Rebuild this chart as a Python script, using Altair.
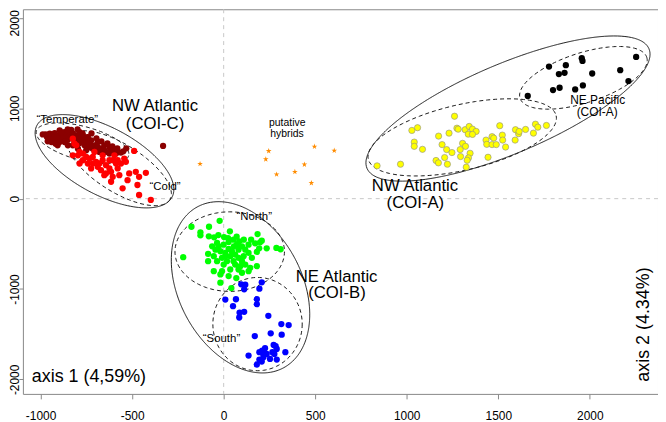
import numpy as np
import pandas as pd
import altair as alt

# ---------------- point data (axis 1, axis 2) ----------------
darkred_x = [-972,-965,-950,-941,-932,-923,-914,-905,-896,-887,-878,-869,-860,-851,-842,-833,-824,-815,-805,-796,
             -787,-778,-769,-760,-751,-742,-733,-724,-715,-706,-697,-688,-679,-670,-652,-643,-624,-606,-588,-561,
             -959,-941,-918,-896,-851,-824,-796,-751,-896,-869,-833,-787,-769,-742,-688,-652,-624,-331,
             -988,-961,-923,-885,-852,-825,-798,-771,-744,-722,-695,-668,-635,-608,-581,-548,-532,
             -907,-863,-814,-733,-679,-624]
darkred_y = [711,682,718,689,663,726,700,645,682,718,663,627,700,652,737,682,718,645,700,663,
             616,682,645,590,627,572,608,645,553,590,535,572,517,553,535,517,499,535,499,510,
             645,627,608,627,590,590,553,535,755,737,762,737,700,682,627,590,572,583,
             711,634,678,733,766,722,766,722,678,722,667,634,612,579,557,524,557,
             590,634,623,568,535,513]

red_x = [-824,-815,-805,-787,-824,-796,-769,-751,-733,-715,-742,-715,-697,-688,-670,-661,-643,-624,-615,-606,
         -615,-588,-579,-561,-543,-534,-489,-516,-480,-462,-425,-471,-552,-525,-579,-597,-661,-706,-724,-769,
         -787,-679,-643,-462,-398,-606,-624,-652,-570]
red_y = [663,608,590,517,480,480,499,462,444,462,389,389,407,352,315,425,370,334,297,242,
         187,389,334,389,444,407,528,279,297,242,286,151,114,205,425,480,480,517,334,425,
         389,389,279,41,-14,425,425,260,260]

green_x = [-22,-176,-80,-127,-127,-81,-29,-52,2,34,71,110,185,208,235,288,311,-221,-85,-27,
           0,27,54,72,100,118,172,181,194,136,154,27,45,63,81,100,118,145,181,36,
           54,63,9,-9,-36,-54,-18,-45,-36,-63,0,36,81,100,-9,-54,-18,27,69,42,
           -18,91,136,109,18,81,9,56,24,85,136,150,199,-85]
green_y = [-245,-311,-311,-373,-406,-417,-403,-428,-425,-362,-421,-454,-392,-465,-549,-545,-560,-648,-611,-527,
           -509,-479,-454,-509,-527,-564,-494,-589,-549,-600,-655,-556,-582,-619,-655,-692,-729,-765,-747,-637,
           -692,-729,-600,-655,-692,-637,-582,-564,-490,-527,-729,-784,-784,-820,-802,-802,-838,-857,-879,-989,
           -930,-747,-802,-637,-692,-564,-637,-527,-436,-472,-509,-454,-483,-692]

blue_x = [208,195,96,118,112,9,67,51,181,181,87,112,85,244,315,355,170,257,317,273,
          284,290,226,210,195,217,235,337,136,195,208,181,253,290,266,277,217]
blue_y = [-926,-996,-948,-952,-1003,-1117,-1113,-1190,-1113,-1168,-1260,-1252,-1315,-1296,-1388,-1399,-1520,-1490,-1505,-1619,
          -1633,-1663,-1655,-1681,-1699,-1718,-1718,-1699,-1736,-1780,-1802,-1835,-1773,-1780,-1699,-1718,-1754]

yellow_x = [838,966,1028,1059,1041,1041,1086,1174,1193,1231,1261,1274,1281,1319,1341,1359,1379,1336,1359,1305,
            1321,1218,1247,1292,1346,1294,1207,1160,1173,1222,1337,1330,1325,1433,1437,1466,1475,1466,1489,1522,
            1524,1540,1444,1508,1594,1611,1614,1592,1649,1692,1703,1716,1763]
yellow_y = [363,381,755,785,626,579,546,692,598,725,912,780,769,763,799,769,744,714,711,612,
            579,543,510,543,502,466,455,422,396,381,451,425,348,648,601,686,670,598,598,703,
            648,571,458,807,763,719,744,648,766,725,824,791,810]

black_x = [1777,1869,1956,1960,2253,1831,1862,2013,2166,2211,1799,1835,1920,1962,1661]
black_y = [1462,1477,1554,1524,1568,1378,1392,1385,1422,1301,1202,1227,1209,1253,1136]

hybrid_x = [-129,246,230,496,604,441,389,289,479]
hybrid_y = [385,527,436,576,532,378,297,268,173]

# ---------------- ellipses: centre and two conjugate semi-axes (data units) ----------------
ell_name = ["COI-C", "Temperate", "Cold", "COI-B", "North", "South", "COI-A all", "NW COI-A", "NE Pacific"]
ell_cx = [-651, -771, -570, 92, 33, 185, 1553, 1303, 1965]
ell_cy = [414, 612, 337, -981, -586, -1388, 997, 678, 1337]
ell_ux = [369, 252, 276, 234, 299, 244, 770, 513, 346]
ell_uy = [-397, -136, -349, -892, 0, 0, 662, 240, 227]
ell_vx = [-86, -24, -69, -297, 0, 0, 96, 40, 42]
ell_vy = [-330, -180, -224, -320, -440, -516, -455, -353, -262]
ell_style = ["solid", "dashed", "dashed", "solid", "dashed", "dashed", "solid", "dashed", "dashed"]

# ---------------- labels ----------------
lab_text = ["NW Atlantic", "(COI-C)", "\u201cTemperate\u201d", "\u201cCold\u201d", "putative", "hybrids",
            "\u201cNorth\u201d", "\u201cSouth\u201d", "NE Atlantic", "(COI-B)", "NW Atlantic", "(COI-A)",
            "NE Pacific", "(COI-A)"]
lab_x = [-375, -375, -854, -320, 347, 346, 167, -12, 617, 619, 1045, 1047, 2043, 2040]
lab_y = [975, 771, 837, 96, 799, 678, -240, -1586, -926, -1102, 88, -108, 1048, 914]
lab_size = [16.8, 16.8, 11.5, 11.5, 10.5, 10.5, 11.5, 11.5, 16.8, 16.8, 16.8, 16.8, 12, 12]

x_ticks = [-1000, -500, 0, 500, 1000, 1500, 2000]
y_ticks = [-2000, -1000, 0, 1000, 2000]

FONT = "Liberation Sans"
xs = alt.Scale(domain=[-1096.6, 2372.4], nice=False, zero=False)
ys = alt.Scale(domain=[-2160.4, 2095.6], nice=False, zero=False)

X = alt.X("x:Q", scale=xs, axis=alt.Axis(values=x_ticks, labelExpr="datum.value + ''", grid=False,
                                          domain=False, tickColor="#888", tickSize=5, labelFontSize=12,
                                          labelFont=FONT, labelColor="black", labelPadding=12, title=None))
Y = alt.Y("y:Q", scale=ys, axis=alt.Axis(values=y_ticks, labelExpr="datum.value + ''", grid=False,
                                          domain=False, tickColor="#888", tickSize=4, labelFontSize=12,
                                          labelFont=FONT, labelColor="black", labelPadding=0, labelAngle=270,
                                          labelAlign="center", labelBaseline="alphabetic",
                                          labelOffset={"condition": {"test": "datum.value == 2000", "value": 5},
                                                       "value": 0},
                                          title=None))

# zero lines
zx = alt.Chart(pd.DataFrame({"x": [0]})).mark_rule(color="#c8c8c8", strokeDash=[4, 4], strokeWidth=1).encode(
    x=alt.X("x:Q", scale=xs))
zy = alt.Chart(pd.DataFrame({"y": [0]})).mark_rule(color="#c8c8c8", strokeDash=[4, 4], strokeWidth=1).encode(
    y=alt.Y("y:Q", scale=ys))

# ellipse outlines
t = np.linspace(0, 2 * np.pi, 145)
rows = []
for i, n in enumerate(ell_name):
    for k, tt in enumerate(t):
        rows.append({"ell": n, "i": k, "style": ell_style[i],
                     "x": ell_cx[i] + ell_ux[i] * np.cos(tt) + ell_vx[i] * np.sin(tt),
                     "y": ell_cy[i] + ell_uy[i] * np.cos(tt) + ell_vy[i] * np.sin(tt)})
ell_df = pd.DataFrame(rows)
ells = alt.Chart(ell_df).mark_line(color="#1a1a1a", strokeWidth=1).encode(
    x=X, y=Y, detail="ell:N", order="i:Q",
    strokeDash=alt.StrokeDash("style:N", scale=alt.Scale(domain=["solid", "dashed"], range=[[1, 0], [4, 3]]),
                              legend=None))

def pts(xv, yv, color, **kw):
    df = pd.DataFrame({"x": xv, "y": yv})
    return alt.Chart(df).mark_circle(size=40, opacity=1, color=color, **kw).encode(x=X, y=Y)

p_dr = pts(darkred_x, darkred_y, "#8B0000")
p_r = pts(red_x, red_y, "#FF0000")
p_g = pts(green_x, green_y, "#00FF00")
p_b = pts(blue_x, blue_y, "#0000FF")
p_y = pts(yellow_x, yellow_y, "#FFFF00", stroke="#8a8a8a", strokeWidth=0.6)
p_k = pts(black_x, black_y, "#000000")

STAR = "M0,-1L0.2245,-0.309L0.951,-0.309L0.363,0.118L0.588,0.809L0,0.382L-0.588,0.809L-0.363,0.118L-0.951,-0.309L-0.2245,-0.309Z"
p_h = alt.Chart(pd.DataFrame({"x": hybrid_x, "y": hybrid_y})).mark_point(
    shape=STAR, filled=True, color="#FF8C00", size=36, opacity=1).encode(x=X, y=Y)

lab_df = pd.DataFrame({"x": lab_x, "y": lab_y, "t": lab_text, "s": lab_size})
labels = alt.Chart(lab_df).mark_text(font=FONT, color="black", align="center", baseline="alphabetic").encode(
    x=X, y=Y, text="t:N", size=alt.Size("s:Q", scale=None, legend=None))

ax1 = alt.Chart(pd.DataFrame({"x": [-1048], "y": [-2025], "t": ["axis 1 (4,59%)"]})).mark_text(
    font=FONT, fontSize=18, color="black", align="left", baseline="alphabetic").encode(x=X, y=Y, text="t:N")
ax2 = alt.Chart(pd.DataFrame({"x": [2325], "y": [-2025], "t": ["axis 2 (4.34%)"]})).mark_text(
    font=FONT, fontSize=18, color="black", align="left", baseline="alphabetic", angle=270).encode(x=X, y=Y, text="t:N")

chart = alt.layer(zx, zy, ells, p_dr, p_r, p_g, p_b, p_y, p_k, p_h, labels, ax1, ax2).properties(
    width=639, height=387,
    padding={"left": 15, "top": 0, "right": 0, "bottom": 27},
    autosize=alt.AutoSizeParams(type="none"),
).configure_view(stroke="#888888", strokeWidth=1)

chart.save("out.html", embed_options={"renderer": "svg", "actions": False})
